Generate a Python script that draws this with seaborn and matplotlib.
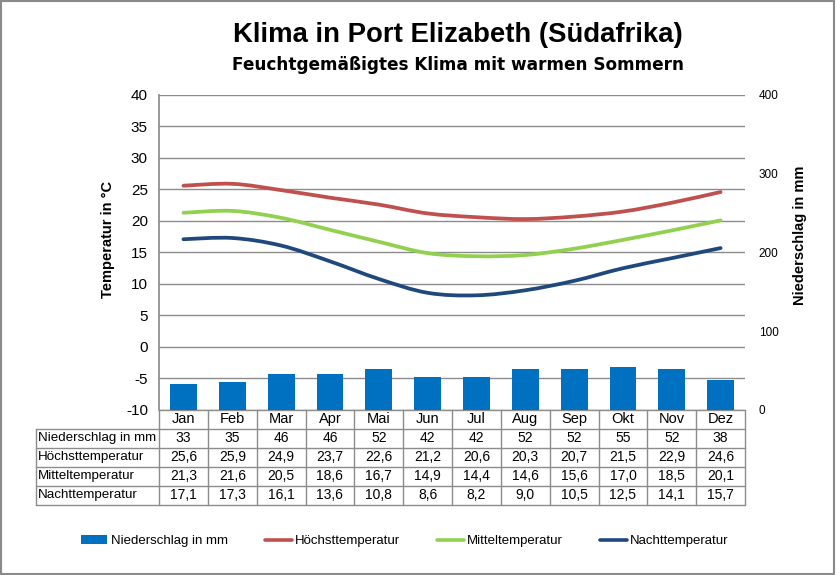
import matplotlib.pyplot as plt
import seaborn as sns
import pandas as pd
import numpy as np
from matplotlib.path import Path
from matplotlib.patches import PathPatch, Rectangle, Patch
from matplotlib.lines import Line2D
from matplotlib.transforms import blended_transform_factory

# Klimadaten Port Elizabeth
months = ['Jan', 'Feb', 'Mar', 'Apr', 'Mai', 'Jun', 'Jul', 'Aug', 'Sep', 'Okt', 'Nov', 'Dez']
niederschlag = [33, 35, 46, 46, 52, 42, 42, 52, 52, 55, 52, 38]
hoechst = [25.6, 25.9, 24.9, 23.7, 22.6, 21.2, 20.6, 20.3, 20.7, 21.5, 22.9, 24.6]
mittel = [21.3, 21.6, 20.5, 18.6, 16.7, 14.9, 14.4, 14.6, 15.6, 17.0, 18.5, 20.1]
nacht = [17.1, 17.3, 16.1, 13.6, 10.8, 8.6, 8.2, 9.0, 10.5, 12.5, 14.1, 15.7]

row_labels = ['Niederschlag in mm', 'Höchsttemperatur', 'Mitteltemperatur', 'Nachttemperatur']
bar_color = '#0070C0'
line_colors = ['#C0504D', '#92D050', '#1F497D']
grid_color = '#8c8c8c'


def smooth_path(x, y):
    """Catmull-Rom style bezier through the data points (like Excel smoothed lines)."""
    x = np.asarray(x, float)
    y = np.asarray(y, float)
    n = len(x)
    verts = [(x[0], y[0])]
    codes = [Path.MOVETO]
    for i in range(n - 1):
        p0 = max(i - 1, 0)
        p3 = min(i + 2, n - 1)
        c1 = (x[i] + (x[i + 1] - x[p0]) / 6, y[i] + (y[i + 1] - y[p0]) / 6)
        c2 = (x[i + 1] - (x[p3] - x[i]) / 6, y[i + 1] - (y[p3] - y[i]) / 6)
        verts += [c1, c2, (x[i + 1], y[i + 1])]
        codes += [Path.CURVE4] * 3
    return Path(verts, codes)


sns.set_theme(style='white')
plt.rcParams['font.family'] = ['Liberation Sans', 'DejaVu Sans']
plt.rcParams['text.color'] = 'black'
plt.rcParams['axes.labelcolor'] = 'black'
plt.rcParams['axes.unicode_minus'] = False

fig = plt.figure(figsize=(8.36, 5.75), dpi=100)
ax = fig.add_axes([0.1902, 0.2870, 0.701, 0.5478])
ax2 = ax.twinx()

# bars on the secondary axis
df = pd.DataFrame({'Monat': months, 'Niederschlag': niederschlag})
sns.barplot(data=df, x='Monat', y='Niederschlag', ax=ax2, color=bar_color,
            width=0.55, saturation=1, linewidth=0)

# smoothed temperature lines
xpos = np.arange(len(months))
for vals, col in zip([hoechst, mittel, nacht], line_colors):
    ax.add_patch(PathPatch(smooth_path(xpos, vals), fill=False, edgecolor=col,
                           lw=2.7, capstyle='round', zorder=3))

ax.set_xlim(-0.5, 11.5)
ax2.set_xlim(-0.5, 11.5)
ax.set_ylim(-10, 40)
ax2.set_ylim(0, 400)
ax.set_yticks(range(-10, 41, 5))
ax2.set_yticks([0, 100, 200, 300, 400])
ax.yaxis.grid(True, color=grid_color, lw=1)
ax.set_axisbelow(True)
ax.tick_params(axis='x', labelbottom=False, length=0)
ax.tick_params(axis='y', length=0, pad=8, labelsize=11, labelcolor='black')
ax2.tick_params(axis='y', length=0, pad=10, labelsize=8.5, labelcolor='black')
ax2.set_xlabel('')

for a in (ax, ax2):
    for s in a.spines.values():
        s.set_visible(False)
ax.spines['left'].set_visible(True)
ax.spines['left'].set_color(grid_color)

ax.set_ylabel('Temperatur in °C', fontsize=10.5, fontweight='bold')
ax.yaxis.set_label_coords(-0.075, 0.54)
ax2.set_ylabel('Niederschlag in mm', fontsize=10.5, fontweight='bold')
ax2.yaxis.set_label_coords(1.082, 0.555)

# data table under the plot
rh = 19 / 315.0
lab_x = -0.2099
tr = blended_transform_factory(ax.transData, ax.transAxes)
table_vals = [
    [str(v) for v in niederschlag],
    [f'{v:.1f}'.replace('.', ',') for v in hoechst],
    [f'{v:.1f}'.replace('.', ',') for v in mittel],
    [f'{v:.1f}'.replace('.', ',') for v in nacht],
]
lkw = dict(color=grid_color, lw=1, clip_on=False)
ax.plot([0, 1], [0, 0], transform=ax.transAxes, **lkw)
for k in range(1, 6):
    ax.plot([lab_x, 1], [-k * rh, -k * rh], transform=ax.transAxes, **lkw)
for i in range(13):
    ax.plot([i - 0.5, i - 0.5], [0, -5 * rh], transform=tr, **lkw)
ax.plot([lab_x, lab_x], [-rh, -5 * rh], transform=ax.transAxes, **lkw)

for i, m in enumerate(months):
    ax.text(i, -0.5 * rh, m, transform=tr, ha='center', va='center', fontsize=10.5)
for r, (lab, vals) in enumerate(zip(row_labels, table_vals)):
    yy = -(r + 1.5) * rh
    ax.text(lab_x + 0.004, yy, lab, transform=ax.transAxes, ha='left', va='center', fontsize=9.6)
    for i, v in enumerate(vals):
        ax.text(i, yy, v, transform=tr, ha='center', va='center', fontsize=10)

# titles
fig.text(0.548, 0.939, 'Klima in Port Elizabeth (Südafrika)', ha='center', va='center',
         fontsize=19.8, fontweight='bold')
fig.text(0.548, 0.887, 'Feuchtgemäßigtes Klima mit warmen Sommern', ha='center', va='center',
         fontsize=12.2, fontweight='bold', family=['DejaVu Sans'])

# legend
handles = [Patch(facecolor=bar_color, edgecolor='none')] + \
          [Line2D([0], [0], color=c, lw=2.6) for c in line_colors]
fig.legend(handles, row_labels, loc='center left', bbox_to_anchor=(0.097, 0.059), ncol=4,
           frameon=False, handlelength=2.0, handletextpad=0.23, columnspacing=2.85,
           borderaxespad=0, borderpad=0, fontsize=9.5)

fig.add_artist(Rectangle((0.001, 0.001), 0.997, 0.997, transform=fig.transFigure,
                         fill=False, edgecolor='#8a8a8a', lw=1.5))

fig.savefig('out.png', dpi=100)
